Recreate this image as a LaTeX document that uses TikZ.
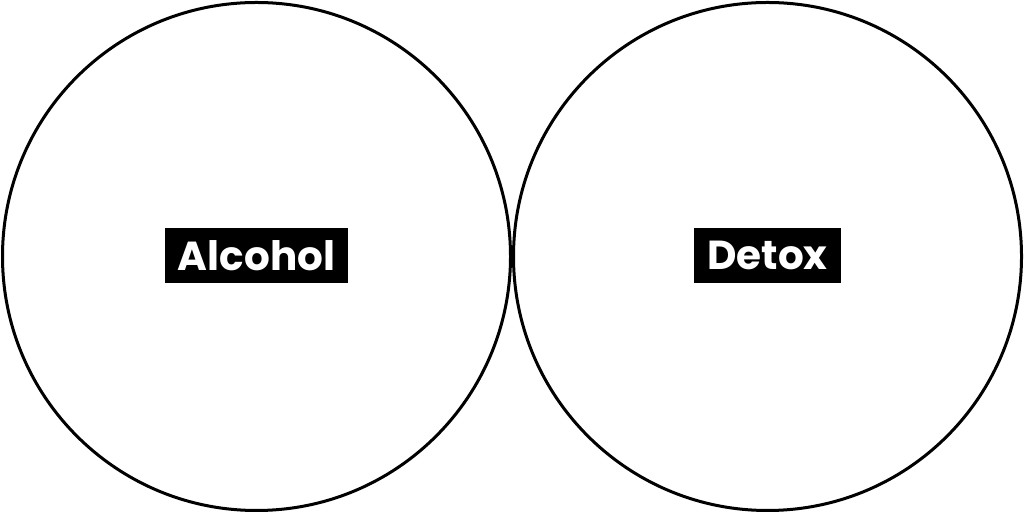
\documentclass[tikz,border=0pt]{standalone}
\usepackage{fontspec}
\setmainfont{Poppins}
\usetikzlibrary{positioning}

\begin{document}
\begin{tikzpicture}[x=1pt,y=1pt,
	ring/.style={circle,draw,line width=3pt,minimum size=508pt,inner sep=0pt},
	tag/.style={fill=black,text=white,font=\fontsize{40.5}{44}\selectfont\bfseries,minimum height=55pt,inner xsep=13pt,inner ysep=0pt}]
\useasboundingbox (0,0) rectangle (1024,513);
\node [ring] (l) at (256.5,256.5) {};
\node [ring] (r) at (767.5,256.5) {};
\node [tag] (alc) at (256.5,257.5) {Alcohol};
\node [tag] (det) at (767.5,257.5) {Detox};
\end{tikzpicture}
\end{document}
